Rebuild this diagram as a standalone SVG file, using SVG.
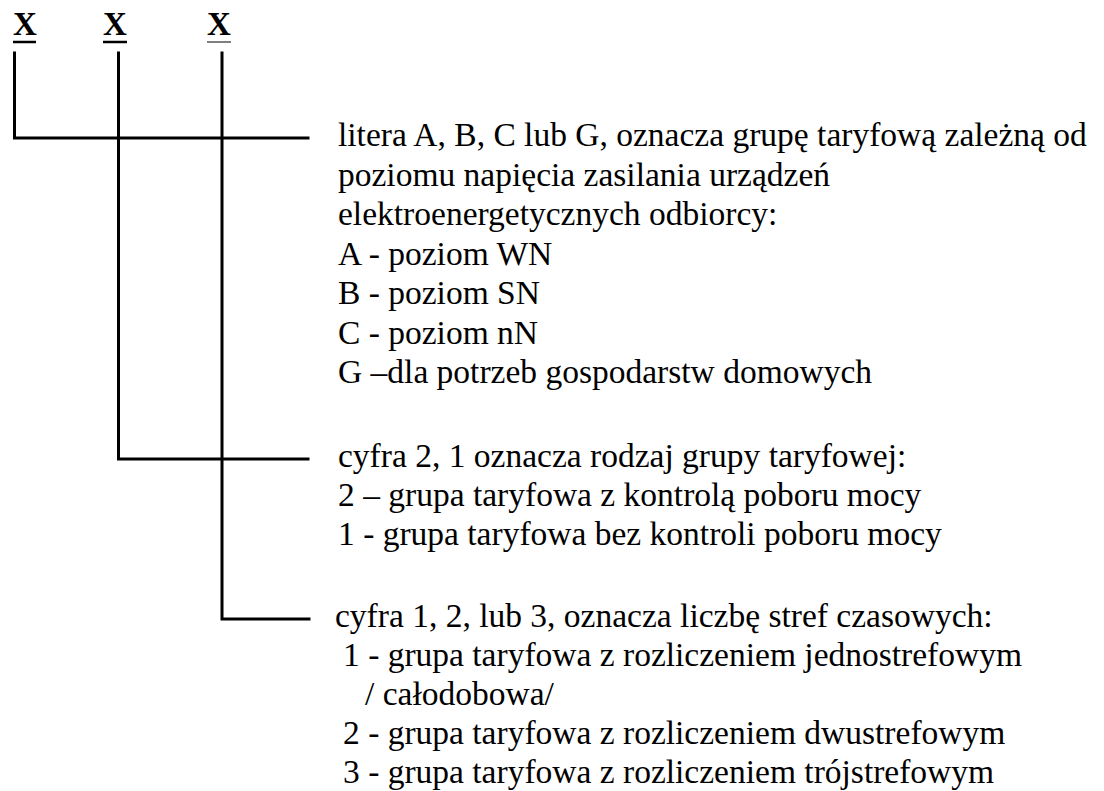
<svg xmlns="http://www.w3.org/2000/svg" width="1104" height="791" viewBox="0 0 1104 791">
<style>
.t{font-family:"Liberation Serif","Times New Roman",serif;font-size:33.5px;fill:#000}
.x{font-family:"Liberation Serif","Times New Roman",serif;font-size:33px;font-weight:bold;fill:#000}
.c{stroke:#000;stroke-width:3;fill:none;stroke-linecap:square}
</style>
<rect width="1104" height="791" fill="#fff"/>
<g id="digits">
<text class="x" x="13" y="35">X</text>
<text class="x" x="103" y="35">X</text>
<text class="x" x="207" y="35">X</text>
<line x1="13" y1="42" x2="36" y2="42" stroke="#000" stroke-width="2.5"/>
<line x1="103" y1="42" x2="127" y2="42" stroke="#000" stroke-width="2.5"/>
<line x1="207" y1="42" x2="231" y2="42" stroke="#000" stroke-width="1"/>
</g>
<g id="connectors">
<polyline class="c" points="14.5,53 14.5,138 308,138"/>
<polyline class="c" points="118.5,53 118.5,459 308,459"/>
<polyline class="c" points="222,53 222,619 309,619"/>
</g>
<g id="node-letter">
<text class="t" x="338" y="146">litera A, B, C lub G, oznacza grupę taryfową zależną od</text>
<text class="t" x="338" y="185.5">poziomu napięcia zasilania urządzeń</text>
<text class="t" x="338" y="225">elektroenergetycznych odbiorcy:</text>
<text class="t" x="338" y="264.5">A - poziom WN</text>
<text class="t" x="338" y="304">B - poziom SN</text>
<text class="t" x="338" y="343.5">C - poziom nN</text>
<text class="t" x="338" y="383">G –dla potrzeb gospodarstw domowych</text>
</g>
<g id="node-type">
<text class="t" x="338" y="467">cyfra 2, 1 oznacza rodzaj grupy taryfowej:</text>
<text class="t" x="338" y="506">2 – grupa taryfowa z kontrolą poboru mocy</text>
<text class="t" x="338" y="545">1 - grupa taryfowa bez kontroli poboru mocy</text>
</g>
<g id="node-zones">
<text class="t" x="335" y="627">cyfra 1, 2, lub 3, oznacza liczbę stref czasowych:</text>
<text class="t" x="343" y="666">1 - grupa taryfowa z rozliczeniem jednostrefowym</text>
<text class="t" x="365" y="705">/ całodobowa/</text>
<text class="t" x="343" y="744">2 - grupa taryfowa z rozliczeniem dwustrefowym</text>
<text class="t" x="343" y="783">3 - grupa taryfowa z rozliczeniem trójstrefowym</text>
</g>
</svg>
